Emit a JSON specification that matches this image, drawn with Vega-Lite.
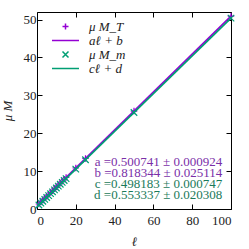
{
  "$schema": "https://vega.github.io/schema/vega-lite/v6.json",
  "width": 194,
  "height": 197,
  "autosize": {"type": "none"},
  "padding": {"left": 37, "top": 12, "right": 18, "bottom": 40},
  "config": {
    "view": {"stroke": null},
    "font": "Liberation Serif",
    "axis": {
      "grid": false,
      "domainColor": "black",
      "domainWidth": 1,
      "tickColor": "black",
      "tickSize": -5,
      "labelFont": "Liberation Serif",
      "labelFontSize": 13,
      "labelColor": "#222222",
      "titleFont": "Liberation Serif",
      "titleFontSize": 13,
      "titleFontWeight": "normal",
      "titleFontStyle": "italic",
      "titleColor": "#222222"
    },
    "legend": {
      "orient": "none",
      "legendX": 22,
      "legendY": 8,
      "padding": 0,
      "symbolSize": 36,
      "symbolStrokeWidth": 1.5,
      "symbolFillColor": "transparent",
      "labelOffset": 17,
      "labelFont": "Liberation Serif",
      "labelFontSize": 13,
      "labelFontStyle": "italic",
      "labelColor": "#222222",
      "rowPadding": -1
    }
  },
  "datasets": {
    "points": [
      {"series": "μ M_T", "ell": 1, "M": 1.319},
      {"series": "μ M_T", "ell": 2, "M": 1.820},
      {"series": "μ M_T", "ell": 3, "M": 2.320},
      {"series": "μ M_T", "ell": 4, "M": 2.821},
      {"series": "μ M_T", "ell": 5, "M": 3.322},
      {"series": "μ M_T", "ell": 6, "M": 3.823},
      {"series": "μ M_T", "ell": 7, "M": 4.324},
      {"series": "μ M_T", "ell": 8, "M": 4.824},
      {"series": "μ M_T", "ell": 9, "M": 5.325},
      {"series": "μ M_T", "ell": 10, "M": 5.826},
      {"series": "μ M_T", "ell": 11, "M": 6.326},
      {"series": "μ M_T", "ell": 12, "M": 6.827},
      {"series": "μ M_T", "ell": 13, "M": 7.328},
      {"series": "μ M_T", "ell": 14, "M": 7.829},
      {"series": "μ M_T", "ell": 15, "M": 8.329},
      {"series": "μ M_T", "ell": 20, "M": 10.833},
      {"series": "μ M_T", "ell": 25, "M": 13.337},
      {"series": "μ M_T", "ell": 50, "M": 25.855},
      {"series": "μ M_T", "ell": 100, "M": 50.892},
      {"series": "μ M_m", "ell": 1, "M": 1.052},
      {"series": "μ M_m", "ell": 2, "M": 1.550},
      {"series": "μ M_m", "ell": 3, "M": 2.048},
      {"series": "μ M_m", "ell": 4, "M": 2.546},
      {"series": "μ M_m", "ell": 5, "M": 3.044},
      {"series": "μ M_m", "ell": 6, "M": 3.543},
      {"series": "μ M_m", "ell": 7, "M": 4.041},
      {"series": "μ M_m", "ell": 8, "M": 4.539},
      {"series": "μ M_m", "ell": 9, "M": 5.037},
      {"series": "μ M_m", "ell": 10, "M": 5.535},
      {"series": "μ M_m", "ell": 11, "M": 6.033},
      {"series": "μ M_m", "ell": 12, "M": 6.532},
      {"series": "μ M_m", "ell": 13, "M": 7.030},
      {"series": "μ M_m", "ell": 14, "M": 7.528},
      {"series": "μ M_m", "ell": 15, "M": 8.026},
      {"series": "μ M_m", "ell": 20, "M": 10.517},
      {"series": "μ M_m", "ell": 25, "M": 13.008},
      {"series": "μ M_m", "ell": 50, "M": 25.463},
      {"series": "μ M_m", "ell": 100, "M": 50.372}
    ],
    "fits": [
      {"series": "aℓ + b", "ell": 0, "M": 0.818344},
      {"series": "aℓ + b", "ell": 100, "M": 50.892444},
      {"series": "cℓ + d", "ell": 0, "M": 0.553337},
      {"series": "cℓ + d", "ell": 100, "M": 50.371637}
    ],
    "params": [
      {"param": "a", "label": "a =0.500741 ± 0.000924"},
      {"param": "b", "label": "b =0.818344 ± 0.025114"},
      {"param": "c", "label": "c =0.498183 ± 0.000747"},
      {"param": "d", "label": "d =0.553337 ± 0.020308"}
    ]
  },
  "layer": [
    {
      "data": {"name": "points"},
      "transform": [{"filter": "datum.series === 'μ M_T'"}],
      "mark": {"type": "point", "filled": false, "strokeWidth": 1.2, "size": 42, "opacity": 1},
      "encoding": {
        "x": {"field": "ell", "type": "quantitative", "scale": {"domain": [0, 100], "nice": false},
              "axis": {"orient": "bottom", "values": [0, 20, 40, 60, 80, 100], "title": "ℓ", "labelPadding": 10, "titlePadding": 8}},
        "y": {"field": "M", "type": "quantitative", "scale": {"domain": [0, 52], "nice": false, "zero": false},
              "axis": {"orient": "left", "values": [0, 10, 20, 30, 40, 50], "title": "μ M", "labelPadding": 6, "titlePadding": 9}},
        "color": {"field": "series", "type": "nominal",
                  "scale": {"domain": ["μ M_T", "aℓ + b", "μ M_m", "cℓ + d"], "range": ["#9400d3", "#9400d3", "#009e73", "#009e73"]},
                  "legend": {"title": null}},
        "shape": {"field": "series", "type": "nominal",
                  "scale": {"domain": ["μ M_T", "aℓ + b", "μ M_m", "cℓ + d"], "range": ["M-1,0H1M0,-1V1", "M-4.5,0H4.5", "M-1,-1L1,1M-1,1L1,-1", "M-4.5,0H4.5"]},
                  "legend": {"title": null}}
      }
    },
    {
      "data": {"name": "fits"},
      "transform": [{"filter": "datum.series === 'aℓ + b'"}],
      "mark": {"type": "line", "strokeWidth": 1.6},
      "encoding": {
        "x": {"field": "ell", "type": "quantitative", "axis": {"orient": "top", "values": [0, 20, 40, 60, 80, 100], "labels": false, "title": null}},
        "y": {"field": "M", "type": "quantitative", "axis": {"orient": "right", "values": [0, 10, 20, 30, 40, 50], "labels": false, "title": null}},
        "color": {"field": "series", "type": "nominal", "legend": {"title": null}}
      }
    },
    {
      "data": {"name": "points"},
      "transform": [{"filter": "datum.series === 'μ M_m'"}],
      "mark": {"type": "point", "filled": false, "strokeWidth": 1.2, "size": 42, "opacity": 1},
      "encoding": {
        "x": {"field": "ell", "type": "quantitative", "axis": null},
        "y": {"field": "M", "type": "quantitative", "axis": null},
        "color": {"field": "series", "type": "nominal", "legend": {"title": null}},
        "shape": {"field": "series", "type": "nominal", "legend": {"title": null}}
      }
    },
    {
      "data": {"name": "fits"},
      "transform": [{"filter": "datum.series === 'cℓ + d'"}],
      "mark": {"type": "line", "strokeWidth": 1.6},
      "encoding": {
        "x": {"field": "ell", "type": "quantitative", "axis": null},
        "y": {"field": "M", "type": "quantitative", "axis": null},
        "color": {"field": "series", "type": "nominal", "legend": {"title": null}}
      }
    },
    {
      "data": {"name": "params"},
      "transform": [{"filter": "datum.param === 'a'"}],
      "mark": {"type": "text", "align": "right", "baseline": "middle", "fontSize": 13, "font": "Liberation Serif", "color": "#7a2fa8"},
      "encoding": {"x": {"datum": 95.5, "type": "quantitative", "axis": null}, "y": {"datum": 12.4, "type": "quantitative", "axis": null}, "text": {"field": "label"}}
    },
    {
      "data": {"name": "params"},
      "transform": [{"filter": "datum.param === 'b'"}],
      "mark": {"type": "text", "align": "right", "baseline": "middle", "fontSize": 13, "font": "Liberation Serif", "color": "#7a2fa8"},
      "encoding": {"x": {"datum": 95.5, "type": "quantitative", "axis": null}, "y": {"datum": 9.5, "type": "quantitative", "axis": null}, "text": {"field": "label"}}
    },
    {
      "data": {"name": "params"},
      "transform": [{"filter": "datum.param === 'c'"}],
      "mark": {"type": "text", "align": "right", "baseline": "middle", "fontSize": 13, "font": "Liberation Serif", "color": "#1a7a5a"},
      "encoding": {"x": {"datum": 95.5, "type": "quantitative", "axis": null}, "y": {"datum": 6.6, "type": "quantitative", "axis": null}, "text": {"field": "label"}}
    },
    {
      "data": {"name": "params"},
      "transform": [{"filter": "datum.param === 'd'"}],
      "mark": {"type": "text", "align": "right", "baseline": "middle", "fontSize": 13, "font": "Liberation Serif", "color": "#1a7a5a"},
      "encoding": {"x": {"datum": 95.5, "type": "quantitative", "axis": null}, "y": {"datum": 3.7, "type": "quantitative", "axis": null}, "text": {"field": "label"}}
    }
  ],
  "resolve": {"axis": {"x": "independent", "y": "independent"}}
}
